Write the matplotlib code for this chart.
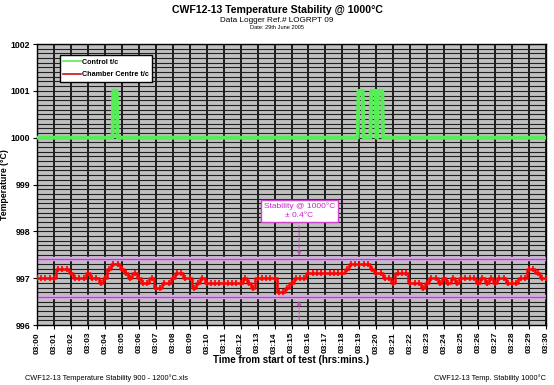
import matplotlib
matplotlib.use("Agg")
import matplotlib.pyplot as plt
import numpy as np
from matplotlib.ticker import MultipleLocator, FixedLocator

plt.rcParams['font.family'] = ['Liberation Sans', 'DejaVu Sans']

# ---- data ----
chamber_step_min = 0.25
chamber_values = [
    997.0, 997.0, 997.0, 997.0,
    997.0, 997.2, 997.2, 997.2,
    997.1, 997.0, 997.0, 997.0,
    997.1, 997.0, 997.0, 996.9,
    997.0, 997.2, 997.3, 997.3,
    997.2, 997.1, 997.0, 997.1,
    997.0, 996.9, 996.9, 997.0,
    996.8, 996.8, 996.9, 996.9,
    997.0, 997.1, 997.1, 997.0,
    997.0, 996.8, 996.9, 997.0,
    996.9, 996.9, 996.9, 996.9,
    996.9, 996.9, 996.9, 996.9,
    996.9, 997.0, 996.9, 996.8,
    997.0, 997.0, 997.0, 997.0,
    997.0, 996.7, 996.7, 996.8,
    996.9, 997.0, 997.0, 997.0,
    997.1, 997.1, 997.1, 997.1,
    997.1, 997.1, 997.1, 997.1,
    997.1, 997.2, 997.3, 997.3,
    997.3, 997.3, 997.3, 997.2,
    997.1, 997.1, 997.0, 997.0,
    996.9, 997.1, 997.1, 997.1,
    996.9, 996.9, 996.9, 996.8,
    996.9, 997.0, 997.0, 996.9,
    997.0, 996.9, 997.0, 996.9,
    997.0, 997.0, 997.0, 997.0,
    996.9, 997.0, 996.9, 997.0,
    996.9, 997.0, 997.0, 996.9,
    996.9, 996.9, 997.0, 997.0,
    997.2, 997.2, 997.1, 997.0,
    997.0,
]
control_minutes = [0.0, 4.45, 4.5, 4.7, 4.75,
                   18.9, 18.95, 19.2, 19.25,
                   19.65, 19.7, 19.95, 20.0,
                   20.05, 20.1, 20.35, 20.4, 30.0]
control_values = [1000, 1000, 1001, 1001, 1000,
                  1000, 1001, 1001, 1000,
                  1000, 1001, 1001, 1000,
                  1000, 1001, 1001, 1000, 1000]
stability_upper = 997.4
stability_lower = 996.6
arrow_minute = 15.45
tick_labels = ["03:%02d" % m for m in range(31)]

chamber_minutes = np.arange(len(chamber_values)) * chamber_step_min

# ---- figure ----
fig = plt.figure(figsize=(5.54, 3.85), dpi=100)
ax = fig.add_axes([0.0668, 0.1558, 0.9188, 0.7299])
ax.set_facecolor('#c0c0c0')

ax.set_xlim(0, 30)
ax.set_ylim(996, 1002)

ax.xaxis.set_major_locator(FixedLocator(range(31)))
ax.set_xticklabels(tick_labels, rotation=90, fontsize=6, fontweight='bold')
ax.yaxis.set_major_locator(MultipleLocator(1))
ax.yaxis.set_minor_locator(MultipleLocator(0.1))
ax.set_yticklabels([], minor=True)
ax.set_yticks(range(996, 1003))
ax.set_yticklabels([str(v) for v in range(996, 1003)], fontsize=6.3, fontweight='bold')

ax.grid(True, axis='x', which='major', color='black', lw=1.2)
ax.grid(True, axis='y', which='both', color='#202020', lw=0.8)
ax.set_axisbelow(True)
ax.tick_params(axis='y', which='minor', length=0)
ax.tick_params(axis='both', which='major', length=3, width=0.8, pad=2)
for s in ax.spines.values():
    s.set_color('black')
    s.set_linewidth(1.0)

# stability lines
ax.axhline(stability_upper, color='#d9a6e6', lw=3.2, zorder=2)
ax.axhline(stability_upper, color='#a050b0', lw=0.8, zorder=2)
ax.axhline(stability_lower, color='#d9a6e6', lw=3.2, zorder=2)
ax.axhline(stability_lower, color='#a050b0', lw=0.8, zorder=2)

# data lines
ax.plot(control_minutes, control_values, color='#55ee55', lw=2.8, zorder=3,
        label='Control t/c')
ax.plot(chamber_minutes, chamber_values, color='#ff0000', lw=1.8, zorder=4,
        drawstyle='steps-mid', label='Chamber Centre t/c')
ax.plot(chamber_minutes, chamber_values, color='#ff0000', lw=0, marker='|',
        ms=5, mew=1.2, zorder=4)

# annotation
ax.text(arrow_minute, 998.44, "Stability @ 1000\u00b0C\n\u00b1 0.4\u00b0C",
        ha='center', va='center', fontsize=6, color='#cc22cc', zorder=6,
        linespacing=1.3,
        bbox=dict(boxstyle='square,pad=0.35', fc='white', ec='#cc44cc', lw=1.0))
ax.annotate('', xy=(arrow_minute, stability_upper + 0.02), xytext=(arrow_minute, 998.17),
            arrowprops=dict(arrowstyle='-|>', color='#cc44cc', lw=0.8, ls='--',
                            mutation_scale=6), zorder=5)
ax.annotate('', xy=(arrow_minute, stability_lower - 0.02), xytext=(arrow_minute, 996.05),
            arrowprops=dict(arrowstyle='-|>', color='#cc44cc', lw=0.8, ls='--',
                            mutation_scale=6), zorder=5)

leg = ax.legend(loc='upper left', bbox_to_anchor=(0.038, 0.972),
                prop={'weight': 'bold', 'size': 5.2}, frameon=True, fancybox=False,
                handlelength=2.4, borderpad=0.45, labelspacing=0.75, handletextpad=0.2)
leg.get_frame().set_edgecolor('black')
leg.get_frame().set_linewidth(1.0)
leg.get_frame().set_facecolor('white')
leg.get_frame().set_alpha(1)
leg.legend_handles[1].set_color('#cc1111')
leg.legend_handles[1].set_linewidth(1.2)
leg.legend_handles[0].set_linewidth(1.2)

ax.set_ylabel('Temperature (\u00b0C)', fontsize=6.3, fontweight='bold')
ax.yaxis.set_label_coords(-0.056, 0.5)
ax.set_xlabel('Time from start of test (hrs:mins.)', fontsize=7, fontweight='bold',
              labelpad=1)

fig.text(0.5, 0.973, 'CWF12-13 Temperature Stability @ 1000\u00b0C', ha='center',
         va='center', fontsize=7.6, fontweight='bold')
fig.text(0.5, 0.947, 'Data Logger Ref.# LOGRPT 09', ha='center', va='center',
         fontsize=5.9)
fig.text(0.5, 0.928, 'Date: 29th June 2005', ha='center', va='center', fontsize=4.1)
fig.text(0.045, 0.018, 'CWF12-13 Temperature Stability 900 - 1200\u00b0C.xls',
         ha='left', va='center', fontsize=5.3)
fig.text(0.985, 0.018, 'CWF12-13 Temp. Stability 1000\u00b0C', ha='right',
         va='center', fontsize=5.3)

fig.savefig('out.png', dpi=100)
